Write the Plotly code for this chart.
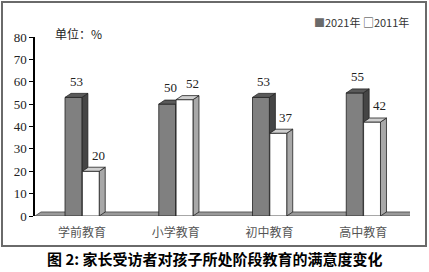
import plotly.graph_objects as go

categories = ["学前教育", "小学教育", "初中教育", "高中教育"]
series_names = ["2021年", "2011年"]
values_2021 = [53, 50, 53, 55]
values_2011 = [20, 52, 37, 42]
y_ticks = [0, 10, 20, 30, 40, 50, 60, 70, 80]

W = 0.18      # bar width (category units)
DX = 0.064    # depth offset x
DY = 1.8      # depth offset y (value units)

series = [
    (values_2021, -W, dict(front="#808080", side="#454545", top="#5a5a5a"), 0.0),
    (values_2011, 0.005, dict(front="#ffffff", side="#a8a8a8", top="#cfcfcf"), 0.05),
]

# frame in pixels: x 3..425, y 3..245
FL, FR, FT, FB = 3, 425, 3, 245
def px(x):
    return (x - FL) / (FR - FL)
def py(y):
    return (FB - y) / (FB - FT)

fig = go.Figure()

def poly_trace(xs, ys, fill, line="#222222"):
    return go.Scatter(x=xs, y=ys, mode="lines", fill="toself", fillcolor=fill,
                      line=dict(color=line, width=0.8), hoverinfo="skip",
                      showlegend=False, cliponaxis=False)

# floor
n = len(categories)
fx = [-0.5, n - 0.5, n - 0.5 + DX, -0.5 + DX, -0.5]
fy = [0, 0, DY, DY, 0]
fig.add_trace(poly_trace(fx, fy, "#9a9a9a", "#444444"))

for vals, off, col, lab_shift in series:
    front_x, front_y, side_x, side_y, top_x, top_y = [], [], [], [], [], []
    for i, v in enumerate(vals):
        x0 = i + off
        x1 = x0 + W
        front_x += [x0, x1, x1, x0, x0, None]
        front_y += [0, 0, v, v, 0, None]
        side_x += [x1, x1 + DX, x1 + DX, x1, x1, None]
        side_y += [0, DY, v + DY, v, 0, None]
        top_x += [x0, x1, x1 + DX, x0 + DX, x0, None]
        top_y += [v, v, v + DY, v + DY, v, None]
    fig.add_trace(poly_trace(side_x, side_y, col["side"]))
    fig.add_trace(poly_trace(front_x, front_y, col["front"]))
    fig.add_trace(poly_trace(top_x, top_y, col["top"]))
    for i, v in enumerate(vals):
        fig.add_annotation(x=i + off + W / 2 + DX / 2 + lab_shift, y=v + DY + 1.2, text=str(v),
                           showarrow=False, yanchor="bottom", xanchor="center",
                           font=dict(family="Liberation Serif", size=13, color="#222222"))

# invisible trace on overlay axes used only for the outer frame
fig.add_trace(go.Scatter(x=[None], y=[None], xaxis="x2", yaxis="y2",
                         showlegend=False, hoverinfo="skip"))

fig.update_layout(
    xaxis=dict(domain=[px(35), px(410)], range=[-0.5, n - 0.5], tickmode="array",
               tickvals=list(range(n)), ticktext=categories, showgrid=False,
               zeroline=False, showline=False, ticks="", automargin=False,
               tickfont=dict(family="Noto Sans CJK SC", size=12, color="#555555"),
               ticklabelstandoff=8),
    yaxis=dict(domain=[py(216), py(37)], range=[0, 80], tickmode="array", tickvals=y_ticks,
               showgrid=False, zeroline=False, showline=True, linecolor="#000000",
               linewidth=1.5, ticks="outside", ticklen=4, tickcolor="#000000",
               automargin=False,
               tickfont=dict(family="Liberation Serif", size=13, color="#222222")),
    xaxis2=dict(domain=[0, 1], anchor="y2", range=[0, 1], showline=True, mirror=True,
                linecolor="#6a6a6a", linewidth=1.5, showgrid=False, zeroline=False,
                showticklabels=False, ticks="", automargin=False),
    yaxis2=dict(domain=[0, 1], anchor="x2", range=[0, 1], showline=True, mirror=True,
                linecolor="#6a6a6a", linewidth=1.5, showgrid=False, zeroline=False,
                showticklabels=False, ticks="", automargin=False),
)

# unit label
fig.add_annotation(xref="paper", yref="paper", x=px(53), y=py(33), text="单位：%",
                   showarrow=False, xanchor="left", yanchor="middle",
                   font=dict(family="Noto Sans CJK SC", size=12, color="#222222"))
# legend
fig.add_annotation(xref="paper", yref="paper", x=px(411), y=py(22),
                   text="<span style='color:#6a6a6a'>■</span>" + series_names[0] +
                        " □" + series_names[1],
                   showarrow=False, xanchor="right", yanchor="middle",
                   font=dict(family="Noto Sans CJK SC", size=11, color="#333333"))
# caption
fig.add_annotation(xref="paper", yref="paper", x=px(215), y=py(258),
                   text="<b>图 2: 家长受访者对孩子所处阶段教育的满意度变化</b>",
                   showarrow=False, xanchor="center", yanchor="middle",
                   font=dict(family="Noto Sans CJK SC", size=15, color="#000000"))

fig.update_layout(width=429, height=272,
                  margin=dict(l=FL, r=429 - FR, t=FT, b=272 - FB, pad=0),
                  paper_bgcolor="white", plot_bgcolor="rgba(0,0,0,0)", showlegend=False)

fig.write_html("out.html")
